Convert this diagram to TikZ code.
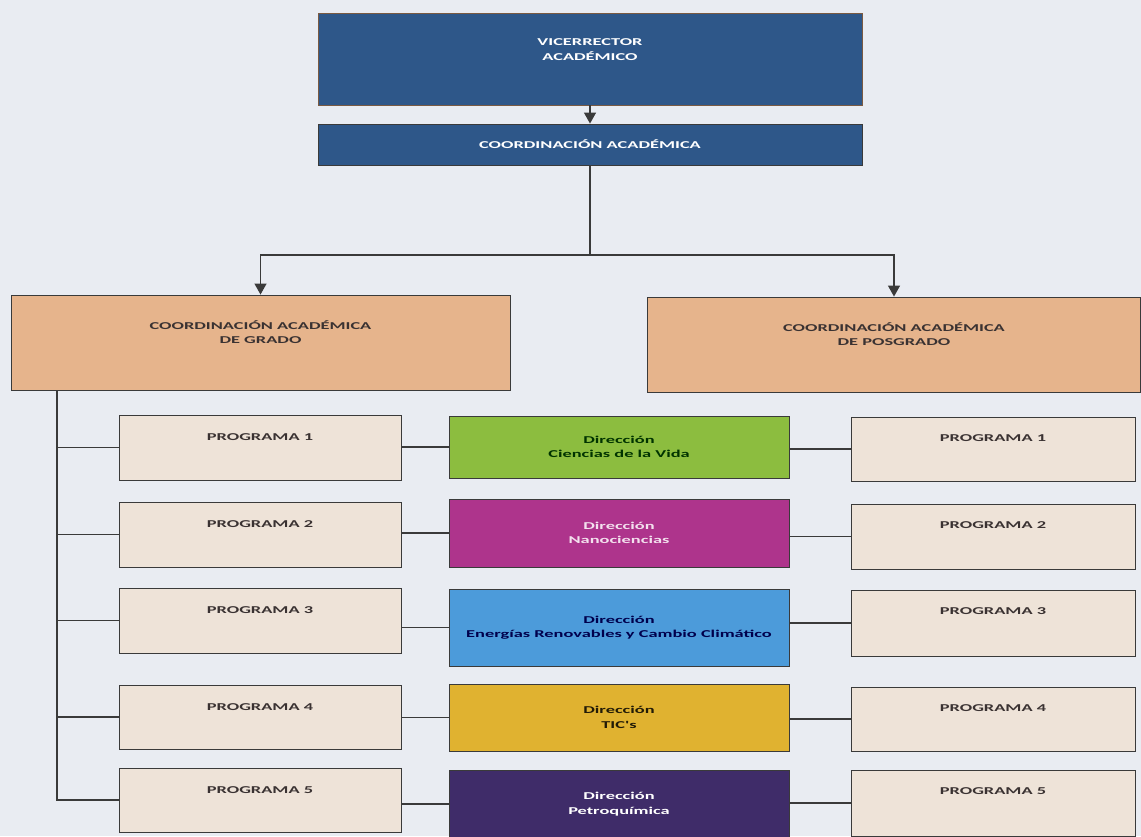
\documentclass[tikz,border=0pt]{standalone}
\usepackage{fontspec}
\newfontfamily\orgfont{Carlito}[FakeStretch=1.75]
\usetikzlibrary{arrows.meta}
\definecolor{bgc}{HTML}{E9ECF2}
\definecolor{navy}{HTML}{2E5789}
\definecolor{tan}{HTML}{E6B48C}
\definecolor{beige}{HTML}{EEE3D8}
\definecolor{cgreen}{HTML}{8CBD3F}
\definecolor{cmag}{HTML}{AE348C}
\definecolor{cblue}{HTML}{4C9BDA}
\definecolor{cyel}{HTML}{E0B230}
\definecolor{cpur}{HTML}{3F2C69}
\definecolor{edge}{HTML}{3A3A3A}
\definecolor{vredge}{HTML}{7A5A42}
\definecolor{ptxt}{HTML}{3A3232}
\begin{document}
\begin{tikzpicture}[x=1pt,y=-1pt,
  every node/.style={font=\orgfont\bfseries\fontsize{10.5}{14.5}\selectfont},
  box/.style={draw=edge, line width=0.9pt, inner sep=0pt, rectangle},
  txt/.style={align=center, anchor=center, inner sep=0pt},
  ptx/.style={anchor=base, text=ptxt, inner sep=0pt},
  conn/.style={draw=edge, line width=1.3pt},
  arr/.style={conn, -{Triangle[length=11pt,width=12pt]}}]
\fill[bgc] (0,0) rectangle (1141,836);
\useasboundingbox (0,0) rectangle (1141,836);

% top
\node[box, draw=vredge, fill=navy, minimum width=544pt, minimum height=92pt,
  label={[txt, text=white, yshift=9.5pt]center:VICERRECTOR\\ACADÉMICO}] (vr) at (590,59) {};
\node[box, fill=navy, minimum width=544pt, minimum height=41pt,
  label={[txt, text=white]center:COORDINACIÓN ACADÉMICA}] (ca) at (590,144.5) {};

% coordinations
\node[box, fill=tan, minimum width=499pt, minimum height=95pt,
  label={[txt, text=ptxt, yshift=10.5pt]center:COORDINACIÓN ACADÉMICA\\DE GRADO}] (grado) at (260.5,342.5) {};
\node[box, fill=tan, minimum width=493pt, minimum height=95pt,
  label={[txt, text=ptxt, yshift=10.5pt]center:COORDINACIÓN ACADÉMICA\\DE POSGRADO}] (pos) at (894,344.5) {};

% left programs
\foreach \i/\y/\h in {1/447.5/65, 2/534.5/65, 3/620.5/65, 4/717/64, 5/800/64}{
  \node[box, fill=beige, minimum width=282pt, minimum height=\h pt,
    label={[ptx, yshift=-26pt]north:PROGRAMA \i}] (lp\i) at (260,\y) {};
}
% right programs
\foreach \i/\y/\h in {1/449/64, 2/536.5/65, 3/623/66, 4/719/64, 5/803/66}{
  \node[box, fill=beige, minimum width=284pt, minimum height=\h pt,
    label={[ptx, yshift=-25pt]north:PROGRAMA \i}] (rp\i) at (993,\y) {};
}

% centre directions
\node[box, fill=cgreen, minimum width=340pt, minimum height=62pt,
  label={[txt, text=black!80!green]center:Dirección\\Ciencias de la Vida}] (c1) at (619,447) {};
\node[box, fill=cmag, minimum width=340pt, minimum height=68pt,
  label={[txt, text=white!85!cmag]center:Dirección\\Nanociencias}] (c2) at (619,533) {};
\node[box, fill=cblue, minimum width=340pt, minimum height=77pt,
  label={[txt, text=black!70!blue]center:Dirección\\Energías Renovables y Cambio Climático}] (c3) at (619,627.5) {};
\node[box, fill=cyel, minimum width=340pt, minimum height=67pt,
  label={[txt, text=black!85!cyel]center:Dirección\\TIC's}] (c4) at (619,717.5) {};
\node[box, fill=cpur, minimum width=340pt, minimum height=68pt,
  label={[txt, text=white]center:Dirección\\Petroquímica}] (c5) at (619,804) {};

% connectors
\draw[arr] (vr.south) -- (ca.north);
\coordinate (J) at (590,255);
\draw[conn] (ca.south) -- (J);
\draw[arr] (J) -| (grado.north);
\draw[arr] (J) -| (pos.north);

\coordinate (bus) at (57,390);
\draw[conn] (bus) |- (lp5.west);
\foreach \i in {1,...,4}{
  \draw[conn] (lp\i.west) -- (lp\i.west -| bus);
}
\foreach \i in {1,...,5}{
  \draw[conn] (lp\i.east |- c\i.west) -- (c\i.west);
  \draw[conn] (c\i.east |- rp\i.west) -- (rp\i.west);
}
\end{tikzpicture}
\end{document}
